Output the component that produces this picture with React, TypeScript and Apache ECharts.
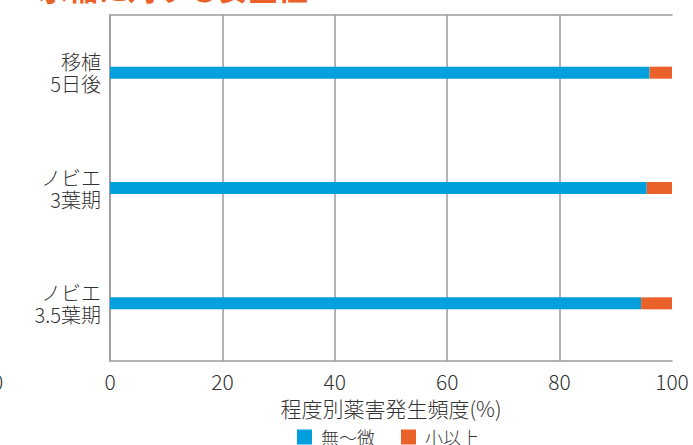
import React, { useEffect, useRef } from "react";
import * as echarts from "echarts";

const categories = ["移植\n5日後", "ノビエ\n3葉期", "ノビエ\n3.5葉期"];
const seriesNames = ["無〜微", "小以上"];
const noneToSlight = [96, 95.5, 94.5];
const slightOrMore = [4, 4.5, 5.5];
const xTicks = { min: 0, max: 100, interval: 20 };
const axisName = "程度別薬害発生頻度(%)";
const titleText = "水稲に対する安全性";

const FONT = "'Noto Sans CJK JP', 'Noto Sans', sans-serif";
const LINE = "#9a9a9a";
const TEXT = "#333333";

export default function App() {
  const ref = useRef<HTMLDivElement>(null);
  useEffect(() => {
    if (!ref.current) return;
    const chart = echarts.init(ref.current, null, { renderer: "svg" });
    chart.setOption({
      animation: false,
      textStyle: { fontFamily: FONT },
      grid: { left: 110, right: 21, top: 15, bottom: 84, containLabel: false },
      legend: {
        data: seriesNames,
        top: 423,
        left: 292,
        icon: "rect",
        itemWidth: 15,
        itemHeight: 15,
        itemGap: 26,
        formatter: (n: string) => " " + n,
        textStyle: { fontSize: 18, color: TEXT, fontFamily: FONT, fontWeight: 300 },
      },
      xAxis: [
        {
          type: "value",
          min: xTicks.min,
          max: xTicks.max,
          interval: xTicks.interval,
          name: axisName,
          nameLocation: "middle",
          nameGap: 36,
          nameTextStyle: { fontSize: 21, color: TEXT, fontFamily: FONT, fontWeight: 300 },
          axisLine: { show: true, lineStyle: { color: LINE, width: 1.5 } },
          axisTick: { show: false },
          axisLabel: { fontSize: 21, color: TEXT, margin: 9, fontFamily: FONT, fontWeight: 300 },
          splitLine: { show: true, showMaxLine: false, lineStyle: { color: LINE, width: 1.5 } },
        },
        {
          type: "value",
          position: "top",
          min: xTicks.min,
          max: xTicks.max,
          axisLine: { show: true, lineStyle: { color: LINE, width: 1.5 } },
          axisTick: { show: false },
          axisLabel: { show: false },
          splitLine: { show: false },
        },
      ],
      yAxis: {
        type: "category",
        data: categories,
        inverse: true,
        axisLine: { show: true, lineStyle: { color: LINE, width: 1.5 } },
        axisTick: { show: false },
        axisLabel: { fontSize: 20, color: TEXT, margin: 9, lineHeight: 22, align: "right", fontFamily: FONT, fontWeight: 300 },
        splitLine: { show: false },
      },
      series: [
        {
          name: seriesNames[0],
          type: "bar",
          stack: "total",
          data: noneToSlight,
          barWidth: 12,
          itemStyle: { color: "#00a0df" },
        },
        {
          name: seriesNames[1],
          type: "bar",
          stack: "total",
          data: slightOrMore,
          barWidth: 12,
          itemStyle: { color: "#ea6129" },
        },
      ],
      graphic: [
        {
          type: "text",
          left: 38,
          top: -28,
          style: { text: titleText, fontSize: 30, fontWeight: "bold", fill: "#ea6129", fontFamily: FONT },
        },
        {
          type: "text",
          x: -8,
          y: 381,
          style: { text: "0", fontSize: 21, fill: TEXT, fontFamily: FONT, fontWeight: 300, verticalAlign: "middle" },
        },
      ],
    });
    return () => chart.dispose();
  }, []);
  return <div ref={ref} style={{ width: 693, height: 445, position: "absolute", left: 0, top: 0 }} />;
}
